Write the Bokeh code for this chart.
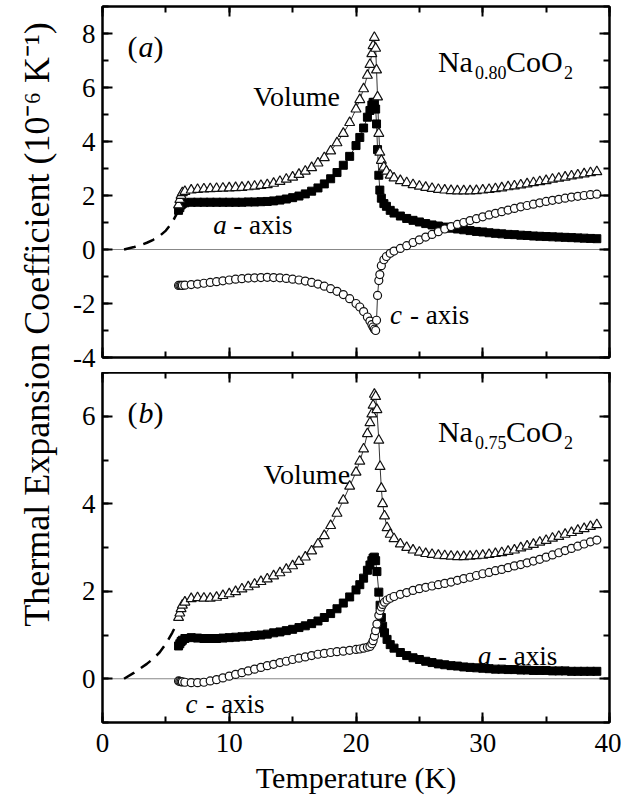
from math import pi
from bokeh.plotting import figure
from bokeh.models import Label, Span, SingleIntervalTicker, LinearAxis, Range1d
from bokeh.layouts import row, column
from bokeh.embed import file_html
from bokeh.resources import INLINE

FONT = "Liberation Serif"

# ---------------- data: panel (a) Na0.80CoO2 ----------------
T_a = [6.0, 6.1, 6.2, 6.3, 6.5,
       7.0, 7.5, 8.0, 8.5, 9.0, 9.5, 10.0, 10.5, 11.0, 11.5, 12.0, 12.5, 13.0, 13.5,
       14.0, 14.5, 15.0, 15.5, 16.0, 16.5, 17.0, 17.5, 18.0, 18.5, 19.0, 19.5, 20.0,
       20.3, 20.6, 20.9,
       21.1, 21.25, 21.35, 21.45, 21.55, 21.62, 21.7, 21.8, 21.88,
       22.0, 22.2, 22.4, 22.7,
       23.0, 23.5, 24.0, 24.5, 25.0, 25.5, 26.0, 26.5, 27.0, 27.5, 28.0, 28.5, 29.0,
       29.5, 30.0, 30.5, 31.0, 31.5, 32.0, 32.5, 33.0, 33.5, 34.0, 34.5, 35.0, 35.5,
       36.0, 36.5, 37.0, 37.5, 38.0, 38.5, 39.0]
vol_a = [1.65, 1.85, 2.0, 2.1, 2.15,
         2.2, 2.22, 2.24, 2.25, 2.26, 2.27, 2.28, 2.29, 2.3, 2.32, 2.34, 2.37, 2.4, 2.45,
         2.52, 2.6, 2.68, 2.78, 2.9, 3.03, 3.2, 3.4, 3.65, 3.95, 4.3, 4.7, 5.2,
         5.55, 5.95, 6.45,
         6.85, 7.25, 7.55, 7.85, 7.45, 6.65, 5.65, 4.3, 3.6,
         3.3, 3.05, 2.9, 2.75,
         2.65, 2.55, 2.47, 2.4, 2.34, 2.3, 2.26, 2.22, 2.2, 2.18, 2.17, 2.17, 2.17,
         2.18, 2.2, 2.22, 2.25, 2.28, 2.32, 2.35, 2.39, 2.43, 2.47, 2.51, 2.55, 2.6,
         2.64, 2.68, 2.72, 2.76, 2.8, 2.84, 2.88]
aax_a = [1.45, 1.55, 1.65, 1.7, 1.73,
         1.75, 1.75, 1.75, 1.75, 1.75, 1.75, 1.75, 1.75, 1.75, 1.76, 1.76, 1.77, 1.78, 1.8,
         1.83, 1.87, 1.92, 1.98, 2.06, 2.16, 2.28, 2.43, 2.62, 2.85, 3.12, 3.45, 3.85,
         4.15, 4.5, 4.9,
         5.15, 5.35, 5.45, 5.45, 5.2, 4.65, 3.7, 2.75, 2.2,
         1.9, 1.7, 1.6, 1.45,
         1.35, 1.24, 1.15, 1.08, 1.02, 0.96, 0.91, 0.87, 0.83, 0.79, 0.76, 0.73, 0.7,
         0.67, 0.65, 0.62, 0.6, 0.58, 0.56, 0.55, 0.53, 0.52, 0.5, 0.49, 0.48, 0.47,
         0.46, 0.45, 0.44, 0.43, 0.42, 0.41, 0.4]
cax_a = [-1.33, -1.33, -1.33, -1.33, -1.32,
         -1.3, -1.28, -1.25, -1.22, -1.19, -1.16, -1.13, -1.1, -1.08, -1.06, -1.05, -1.04, -1.03, -1.04,
         -1.05, -1.07, -1.1, -1.13, -1.17, -1.22, -1.28, -1.36, -1.45, -1.55, -1.67, -1.82, -2.0,
         -2.13, -2.3, -2.5,
         -2.65, -2.78, -2.87, -2.95, -3.0, -2.62, -1.7, -1.15, -0.93,
         -0.6, -0.38, -0.26, -0.14,
         -0.06, 0.04, 0.14, 0.26, 0.36, 0.46, 0.56, 0.66, 0.76, 0.85, 0.93, 1.0, 1.07,
         1.14, 1.21, 1.28, 1.34, 1.4, 1.46, 1.52, 1.58, 1.63, 1.68, 1.73, 1.78, 1.82,
         1.86, 1.9, 1.94, 1.97, 2.0, 2.03, 2.05]
fit_T_a = [1.7, 2.5, 3.0, 3.5, 4.0, 4.5, 5.0, 5.5, 6.0]
fit_v_a = [0.0, 0.09, 0.16, 0.25, 0.36, 0.5, 0.7, 1.0, 1.45]

# ---------------- data: panel (b) Na0.75CoO2 ----------------
T_b = [6.0, 6.1, 6.2, 6.3, 6.5,
       7.0, 7.5, 8.0, 8.5, 9.0, 9.5, 10.0, 10.5, 11.0, 11.5, 12.0, 12.5, 13.0, 13.5,
       14.0, 14.5, 15.0, 15.5, 16.0, 16.5, 17.0, 17.5, 18.0, 18.5, 19.0, 19.5, 20.0,
       20.3, 20.6, 20.9,
       21.1, 21.25, 21.35, 21.45, 21.55, 21.65, 21.8, 21.9, 22.0,
       22.1, 22.25, 22.45, 22.7,
       23.0, 23.5, 24.0, 24.5, 25.0, 25.5, 26.0, 26.5, 27.0, 27.5, 28.0, 28.5, 29.0,
       29.5, 30.0, 30.5, 31.0, 31.5, 32.0, 32.5, 33.0, 33.5, 34.0, 34.5, 35.0, 35.5,
       36.0, 36.5, 37.0, 37.5, 38.0, 38.5, 39.0]
vol_b = [1.4, 1.5, 1.6, 1.68, 1.75,
         1.83, 1.85, 1.84, 1.84, 1.86, 1.9, 1.94, 1.99, 2.05, 2.1, 2.16, 2.22, 2.28, 2.35,
         2.42, 2.5, 2.58, 2.68, 2.78, 2.92, 3.08, 3.27, 3.5, 3.78, 4.08, 4.4, 4.72,
         4.97, 5.25, 5.6,
         5.85, 6.05, 6.25, 6.5, 6.45, 6.15, 5.45, 4.85, 4.35,
         4.0, 3.72, 3.45, 3.3,
         3.2, 3.08, 3.0, 2.94, 2.89, 2.86, 2.84, 2.82, 2.81, 2.8, 2.79, 2.79, 2.8,
         2.81, 2.82, 2.84, 2.86, 2.88, 2.91, 2.94, 2.99, 3.03, 3.07, 3.12, 3.16, 3.21,
         3.25, 3.3, 3.34, 3.39, 3.43, 3.48, 3.52]
aax_b = [0.75, 0.8, 0.85, 0.88, 0.92,
         0.94, 0.93, 0.92, 0.92, 0.92, 0.93, 0.94, 0.95, 0.96, 0.97, 0.99, 1.0, 1.02, 1.05,
         1.07, 1.1, 1.13, 1.17, 1.21, 1.26, 1.32, 1.4, 1.49, 1.6, 1.73, 1.87, 2.03,
         2.15, 2.3, 2.48,
         2.6, 2.7, 2.76, 2.78, 2.7, 2.45, 1.98, 1.68, 1.4,
         1.2, 1.05, 0.9, 0.78,
         0.7, 0.6, 0.53, 0.48, 0.44, 0.4, 0.37, 0.34, 0.32, 0.3, 0.29, 0.27, 0.26,
         0.25, 0.24, 0.23, 0.22, 0.22, 0.21, 0.21, 0.2, 0.2, 0.19, 0.19, 0.19, 0.18,
         0.18, 0.18, 0.17, 0.17, 0.17, 0.17, 0.17]
cax_b = [-0.05, -0.06, -0.07, -0.07, -0.08,
         -0.09, -0.09, -0.08, -0.05, -0.02, 0.02, 0.06, 0.1, 0.14, 0.18, 0.22, 0.26, 0.3, 0.33,
         0.37, 0.4, 0.44, 0.47, 0.5, 0.53, 0.56, 0.58, 0.6, 0.62, 0.63, 0.65, 0.67,
         0.68, 0.7, 0.72,
         0.74, 0.8, 0.87, 0.97, 1.1, 1.25, 1.45, 1.56, 1.64,
         1.7, 1.75, 1.8, 1.84,
         1.88, 1.93, 1.97, 2.02, 2.06, 2.09, 2.12, 2.15, 2.18, 2.21, 2.25, 2.29, 2.32,
         2.36, 2.4, 2.43, 2.47, 2.5, 2.54, 2.58, 2.61, 2.65, 2.69, 2.73, 2.78, 2.83,
         2.88, 2.93, 2.98, 3.03, 3.08, 3.13, 3.17]
fit_T_b = [1.7, 2.5, 3.0, 3.5, 4.0, 4.5, 5.0, 5.5, 5.9]
fit_v_b = [0.0, 0.14, 0.24, 0.34, 0.46, 0.6, 0.8, 1.05, 1.28]

x_ticks_interval = 10
y_ticks_interval = 2
neg_tick_text = {-4: "-4", -3: "-3", -2: "-2", -1: "-1"}

LAB_W = 58
TOTAL_H = 795


def style_axis(ax, show_labels, standoff=7):
    ax.axis_line_width = 2
    ax.axis_line_color = "black"
    ax.major_tick_in = 10
    ax.major_tick_out = 0
    ax.minor_tick_in = 6
    ax.minor_tick_out = 0
    ax.major_tick_line_width = 2
    ax.minor_tick_line_width = 2
    ax.major_label_text_font = FONT
    if show_labels:
        ax.major_label_text_color = "black"
        ax.major_label_text_font_size = "27px"
        ax.major_label_standoff = standoff
    else:
        ax.major_label_text_color = None
        ax.major_label_text_font_size = "1px"
        ax.major_label_standoff = 0


def make_panel(T, vol, aax, cax, fT, fv, ylim, frame_h, top_b, bot_b, show_x):
    p = figure(frame_width=507, frame_height=frame_h,
               x_range=Range1d(0, 40), y_range=Range1d(*ylim),
               output_backend="svg", toolbar_location=None,
               x_axis_location=None, y_axis_location=None,
               min_border_left=102 - LAB_W, min_border_right=12,
               min_border_top=top_b, min_border_bottom=bot_b)
    p.grid.visible = False
    p.outline_line_color = "black"
    p.outline_line_width = 2
    p.background_fill_color = "white"
    p.border_fill_color = "white"

    for loc, show in (("below", show_x), ("above", False)):
        ax = LinearAxis(ticker=SingleIntervalTicker(interval=x_ticks_interval, num_minor_ticks=2))
        style_axis(ax, show, standoff=11)
        if loc == "below" and show:
            ax.axis_label = "Temperature (K)"
            ax.axis_label_text_font = FONT
            ax.axis_label_text_font_size = "30px"
            ax.axis_label_text_font_style = "normal"
            ax.axis_label_text_color = "black"
            ax.axis_label_standoff = 6
        p.add_layout(ax, loc)
    for loc, show in (("left", True), ("right", False)):
        ax = LinearAxis(ticker=SingleIntervalTicker(interval=y_ticks_interval, num_minor_ticks=2))
        style_axis(ax, show)
        if show:
            ax.major_label_overrides = neg_tick_text
        p.add_layout(ax, loc)

    p.add_layout(Span(location=0, dimension="width", line_color="#888888",
                      line_width=1, level="underlay"))

    p.line(fT, fv, line_color="black", line_width=2.5, line_dash="12 8")

    p.line(T, aax, line_color="black", line_width=0.8)
    p.scatter(T, aax, marker="square", size=8, fill_color="black", line_color="black")
    p.line(T, cax, line_color="black", line_width=0.8)
    p.scatter(T, cax, marker="circle", size=8, fill_color="white", line_color="#111111",
              line_width=1.2)
    p.line(T, vol, line_color="black", line_width=0.8)
    p.scatter(T, vol, marker="triangle", size=10, fill_color="white", line_color="#111111",
              line_width=1.2)
    return p


def add_text(p, x, y, text, size, style="normal", dx=0, dy=0):
    p.add_layout(Label(x=x, y=y, text=text, text_font=FONT, text_font_size=size,
                       text_font_style=style, text_color="black",
                       text_baseline="alphabetic", text_align="left",
                       x_offset=dx, y_offset=dy))


def add_formula(p, x, y, sub):
    add_text(p, x, y, "Na", "30px")
    add_text(p, x, y, sub, "18px", dx=37, dy=-11)
    add_text(p, x, y, "CoO", "30px", dx=68)
    add_text(p, x, y, "2", "18px", dx=126, dy=-11)


def add_tag(p, x, y, letter):
    add_text(p, x, y, "(", "30px")
    add_text(p, x, y, letter, "30px", style="italic", dx=11)
    add_text(p, x, y, ")", "30px", dx=26)


def add_axis_name(p, x, y, letter):
    add_text(p, x, y, letter, "27px", style="italic")
    add_text(p, x, y, "- axis", "27px", dx=20)


p1 = make_panel(T_a, vol_a, aax_a, cax_a, fit_T_a, fit_v_a, (-4, 9), 351, 6, 15, False)
p2 = make_panel(T_b, vol_b, aax_b, cax_b, fit_T_b, fit_v_b, (-1, 7), 350, 0, 10, True)

add_tag(p1, 1.97, 7.52, "a")
add_text(p1, 11.9, 5.67, "Volume", "28px")
add_axis_name(p1, 8.74, 0.89, "a")
add_axis_name(p1, 22.68, -2.44, "c")
add_formula(p1, 26.46, 6.96, "0.80")

add_tag(p2, 1.97, 6.09, "b")
add_text(p2, 12.7, 4.67, "Volume", "28px")
add_axis_name(p2, 29.63, 0.53, "a")
add_axis_name(p2, 6.54, -0.57, "c")
add_formula(p2, 26.46, 5.66, "0.75")

lab = figure(width=LAB_W, height=TOTAL_H, x_axis_type=None, y_axis_type=None,
             output_backend="svg", toolbar_location=None, min_border=0,
             x_range=Range1d(0, 1), y_range=Range1d(0, 1))
lab.outline_line_color = None
lab.grid.visible = False
lab.add_layout(Label(x=36, y=TOTAL_H - 324, x_units="screen", y_units="screen",
                     text="Thermal Expansion Coefficient (10\u207b\u2076 K\u207b\u00b9)",
                     text_font=FONT, text_font_size="36px", angle=pi / 2,
                     text_align="center", text_baseline="middle", text_color="black"))

layout = row(lab, column(p1, p2))
open("out.html", "w").write(file_html(layout, INLINE))
